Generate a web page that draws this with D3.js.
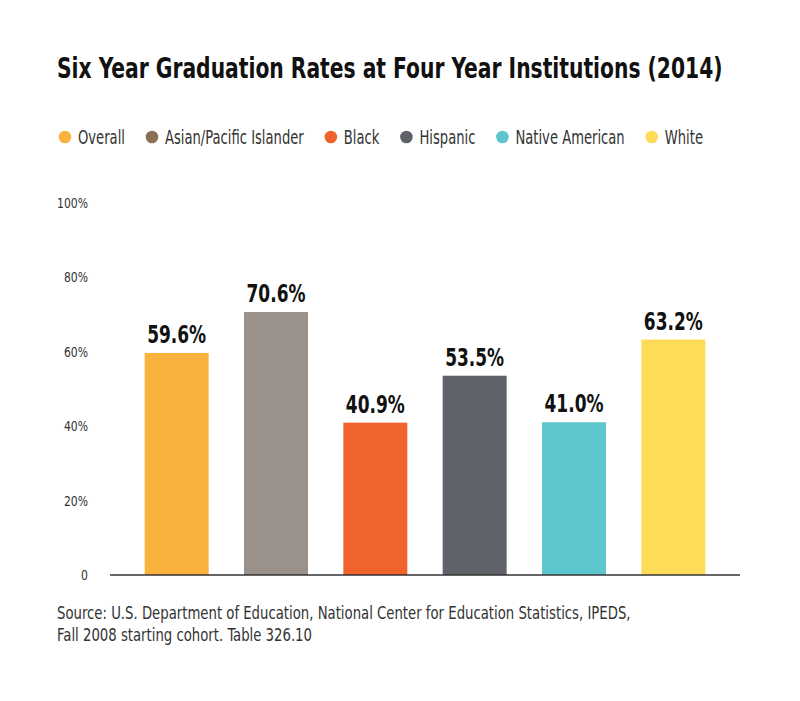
<!DOCTYPE html>
<html>
<head>
<meta charset="utf-8">
<script src="https://cdn.jsdelivr.net/npm/d3@7"></script>
<style>
  html, body { margin: 0; padding: 0; background: #fff; }
  svg { display: block; font-family: "DejaVu Sans Condensed", "Liberation Sans Narrow", "Roboto", sans-serif; }
</style>
</head>
<body>
<div id="chart"></div>
<script>
// Six year graduation rates, 2014 (values in %)
const categories = ["Overall", "Asian/Pacific Islander", "Black", "Hispanic", "Native American", "White"];
const rates = [59.6, 70.6, 40.9, 53.5, 41.0, 63.2];
const barColors = ["#f9b23c", "#9a918a", "#f0632a", "#5f6369", "#5dc5cc", "#fedc58"];
const legendColors = ["#f9b23c", "#8b6f56", "#f0632a", "#5f6369", "#5dc5cc", "#fedc58"];
const yTicks = [0, 20, 40, 60, 80, 100];
const title = "Six Year Graduation Rates at Four Year Institutions (2014)";
const sourceLines = [
  "Source: U.S. Department of Education, National Center for Education Statistics, IPEDS,",
  "Fall 2008 starting cohort. Table 326.10"
];

const W = 800, H = 701;
const svg = d3.select("#chart").append("svg").attr("width", W).attr("height", H);

// text inside a group that we can squeeze horizontally (the reference face is
// a tight condensed gothic, narrower than anything installed)
function label(parent, x, y, str, size, opts = {}) {
  const g = parent.append("g").attr("transform", `translate(${x},${y})`);
  const t = g.append("text").attr("font-size", size)
    .attr("font-weight", opts.bold ? "bold" : null)
    .attr("text-anchor", opts.anchor || "start")
    .attr("fill", opts.fill || "#333")
    .text(str);
  return { g, t, w: t.node().getComputedTextLength(), x, y };
}
function squeeze(l, k) {
  l.g.attr("transform", `translate(${l.x},${l.y}) scale(${k},1)`);
}

// Title
const tl = label(svg, 57, 78, title, 28, { bold: true, fill: "#111" });
squeeze(tl, 666 / tl.w);

// Legend
const legend = svg.append("g").attr("transform", "translate(65,137)");
const probe = categories.map(c => label(legend, 0, 0, c, 19));
const natural = d3.sum(probe, p => p.w);
probe.forEach(p => p.g.remove());
const legK = (638 - 6 * 13 - 5 * 27) / natural;
let lx = 0;
categories.forEach((c, i) => {
  legend.append("circle").attr("cx", lx).attr("r", 6.3).attr("fill", legendColors[i]);
  const l = label(legend, lx + 13, 6.5, c, 19);
  squeeze(l, legK);
  lx += 13 + l.w * legK + 27;
});

// Scales
const y = d3.scaleLinear().domain([0, 100]).range([575, 202.5]);
const x = d3.scaleBand().domain(categories).range([127, 723])
  .paddingInner(0.356).paddingOuter(0.178);

// Y axis labels
const tickFmt = d => d === 0 ? "0" : d + "%";
const axisG = svg.append("g");
const tickProbe = label(axisG, 0, 0, "100%", 14.5);
const tickK = 31 / tickProbe.w;
tickProbe.g.remove();
yTicks.forEach(v => {
  const l = label(axisG, 88, y(v) + 5, tickFmt(v), 14.5, { anchor: "end" });
  squeeze(l, tickK);
});

// Bars
svg.append("g").selectAll("rect").data(categories).join("rect")
  .attr("x", d => x(d))
  .attr("width", x.bandwidth())
  .attr("y", (d, i) => y(rates[i]))
  .attr("height", (d, i) => y(0) - y(rates[i]))
  .attr("fill", (d, i) => barColors[i]);

// Value labels
const valG = svg.append("g");
const valProbe = label(valG, 0, 0, "59.6%", 25, { bold: true });
const valK = 59 / valProbe.w;
valProbe.g.remove();
categories.forEach((c, i) => {
  const l = label(valG, x(c) + x.bandwidth() / 2, y(rates[i]) - 10,
    rates[i].toFixed(1) + "%", 25, { bold: true, anchor: "middle", fill: "#111" });
  squeeze(l, valK);
});

// Baseline
svg.append("line").attr("x1", 110).attr("x2", 740)
  .attr("y1", y(0)).attr("y2", y(0))
  .attr("stroke", "#333").attr("stroke-width", 1.6);

// Source
const src = svg.append("g");
const srcLabels = sourceLines.map((s, i) => label(src, 57, 619 + i * 22, s, 18));
const srcK = 574 / srcLabels[0].w;
srcLabels.forEach(l => squeeze(l, srcK));
</script>
</body>
</html>
